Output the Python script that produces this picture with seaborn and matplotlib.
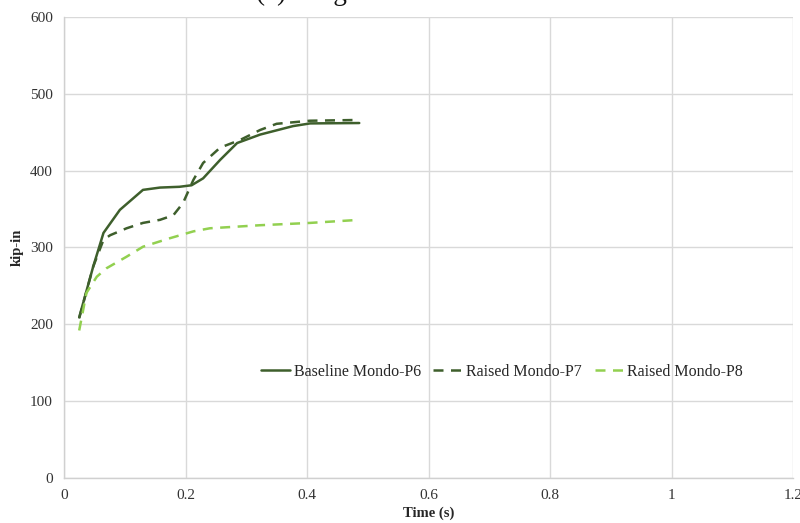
import matplotlib
matplotlib.use("Agg")
import matplotlib.pyplot as plt
import seaborn as sns
import pandas as pd
from matplotlib.lines import Line2D

# Data
t_p6 = [0.025, 0.048, 0.065, 0.092, 0.13, 0.158, 0.19, 0.21, 0.229, 0.257, 0.285, 0.323, 0.377, 0.405, 0.486]
v_p6 = [209, 275, 319, 349, 375, 378, 379, 381, 390, 414, 436, 447, 458, 461.5, 462]

t_p7 = [0.025, 0.048, 0.065, 0.076, 0.103, 0.13, 0.158, 0.18, 0.196, 0.213, 0.229, 0.257, 0.29, 0.323, 0.35, 0.405, 0.486]
v_p7 = [208, 275, 310, 316, 325, 332, 336, 342, 358, 388, 410, 430, 440, 453, 461, 465, 466]

t_p8 = [0.025, 0.037, 0.054, 0.07, 0.103, 0.13, 0.174, 0.213, 0.24, 0.323, 0.405, 0.486]
v_p8 = [192, 241, 262, 273, 288, 301, 312, 321, 325, 329, 332, 336]

series_names = ["Baseline Mondo-P6", "Raised Mondo-P7", "Raised Mondo-P8"]
x_ticks = [0, 0.2, 0.4, 0.6, 0.8, 1, 1.2]
x_ticklabels = ["0", "0.2", "0.4", "0.6", "0.8", "1", "1.2"]
y_ticks = [0, 100, 200, 300, 400, 500, 600]

frames = []
for name, t, v in zip(series_names, [t_p6, t_p7, t_p8], [v_p6, v_p7, v_p8]):
    frames.append(pd.DataFrame({"Time": t, "Value": v, "Series": name}))
df = pd.concat(frames, ignore_index=True)

sns.set_theme(style="white")
plt.rcParams["font.family"] = ["Liberation Serif", "DejaVu Serif"]

fig = plt.figure(figsize=(8, 5.23), dpi=100)
ax = fig.add_axes([64 / 800, 1 - 478 / 523, (793 - 64) / 800, (478 - 17) / 523])

dark = "#3E5F2C"
light = "#92D050"
palette = {series_names[0]: dark, series_names[1]: dark, series_names[2]: light}

sns.lineplot(data=df, x="Time", y="Value", hue="Series", sort=False, units="Series",
             estimator=None, palette=palette, ax=ax, legend=False, linewidth=1.8)

dash = (0, (4, 3))
styles = ["-", dash, dash]
for line, ls in zip(ax.get_lines(), styles):
    line.set_linestyle(ls)

ax.set_xlim(0, 1.2)
ax.set_ylim(0, 600)
ax.set_xticks(x_ticks)
ax.set_xticklabels(x_ticklabels)
ax.set_yticks(y_ticks)
ax.grid(True, color="#d9d9d9", linewidth=1)
ax.set_axisbelow(True)
for s in ["top", "right"]:
    ax.spines[s].set_visible(False)
for s in ["left", "bottom"]:
    ax.spines[s].set_color("#d0d0d0")
    ax.spines[s].set_linewidth(1)
ax.tick_params(axis="both", labelsize=11, length=0, pad=8)
for lbl in ax.get_xticklabels() + ax.get_yticklabels():
    lbl.set_color("#333333")

ax.set_xlabel("Time (s)", fontsize=10.5, fontweight="bold")
ax.set_ylabel("kip-in", fontsize=10.5, fontweight="bold")
ax.yaxis.set_label_coords((24 - 64) / 729, 0.5)
ax.xaxis.set_label_coords(0.5, -(507 - 478) / 461)

handles = [Line2D([0], [0], color=dark, lw=1.8, ls="-"),
           Line2D([0], [0], color=dark, lw=1.8, ls=dash),
           Line2D([0], [0], color=light, lw=1.8, ls=dash)]
ax.legend(handles, series_names, ncol=3, frameon=False, fontsize=11.5,
          loc="center", bbox_to_anchor=((502 - 64) / 729, (478 - 372) / 461),
          handlelength=1.8, handletextpad=0.25, columnspacing=0.8)

fig.text(0.5, 1.0, "(c) Hinge Moment Results", ha="center", va="baseline",
         fontsize=19.5, color="#111111")

fig.savefig("out.png", dpi=100)
